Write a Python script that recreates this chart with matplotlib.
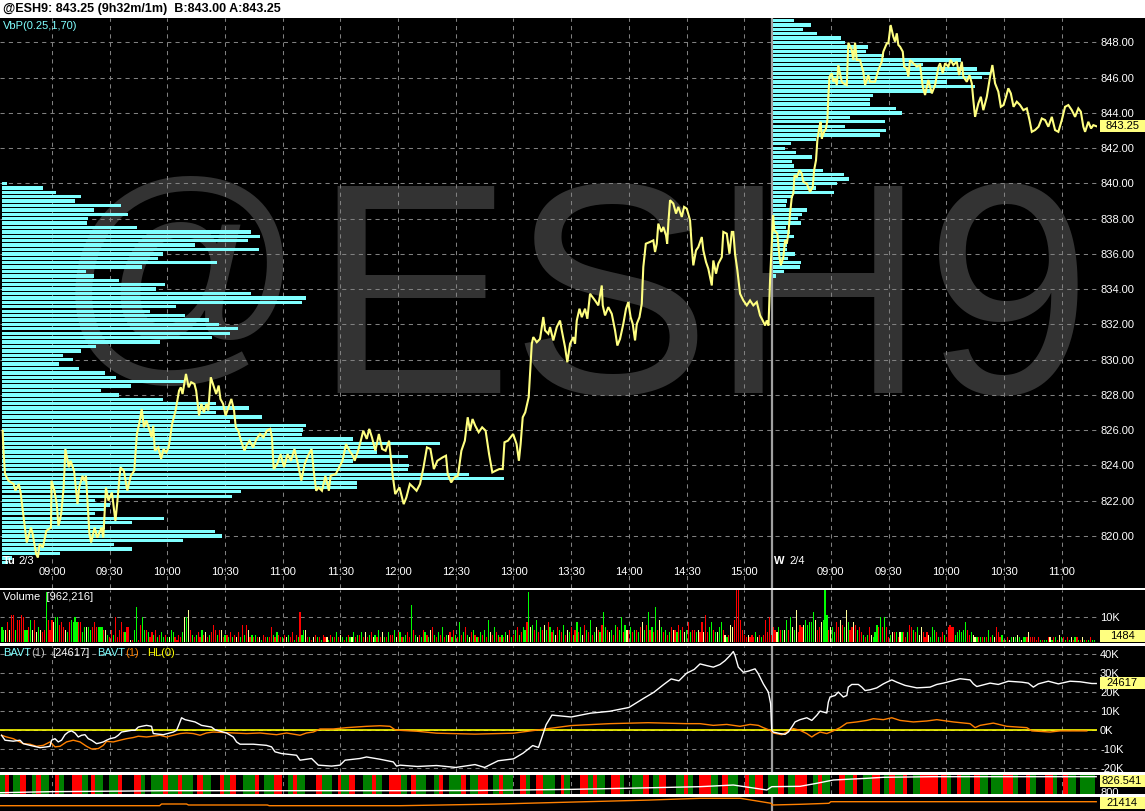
import matplotlib
matplotlib.use("Agg")
import matplotlib.pyplot as plt
import matplotlib.transforms as mtransforms
from matplotlib.patches import Rectangle
import re

plt.rcParams['font.family'] = ['Liberation Sans', 'DejaVu Sans']
plt.rcParams['lines.scale_dashes'] = False

W, H = 1145, 811

# ────────── Data ──────────
# time axis = minutes since 08:30 on Tue 2/3, Wed 2/4 session opens at minute 405
TIME_TICKS  = [30, 60, 90, 120, 150, 180, 210, 240, 270, 300, 330, 360, 390,
               435, 465, 495, 525, 555]
TIME_LABELS = ["09:00", "09:30", "10:00", "10:30", "11:00", "11:30", "12:00",
               "12:30", "13:00", "13:30", "14:00", "14:30", "15:00",
               "09:00", "09:30", "10:00", "10:30", "11:00"]
SESSION_BREAK = 404.5
PRICE_TICKS = list(range(820, 849, 2))
LAST_PRICE = 843.25

PRICE_T = [4.4, 4.8, 5.6, 7.4, 10.1, 11.0, 12.8, 13.7, 15.5, 16.9, 19.1, 20.0, 21.8, 22.7, 23.6, 25.3,
           27.1, 29.5, 29.8, 31.3, 32.5, 33.4, 34.8, 36.1, 37.0, 38.8, 39.7, 41.5, 43.3, 44.2, 45.9,
           46.8, 47.7, 49.5, 50.4, 52.2, 53.6, 55.8, 56.7, 58.1, 59.4, 61.2, 63.0, 63.9, 65.6, 67.4,
           69.2, 71.0, 72.8, 74.2, 75.5, 76.7, 77.8, 79.1, 80.9, 81.8, 82.7, 83.5, 85.3, 86.8, 88.0,
           89.5, 90.7, 92.5, 94.3, 96.1, 97.0, 97.9, 99.7, 101.1, 102.4, 104.1, 105.0, 106.5, 107.7,
           109.0, 110.4, 111.3, 112.6, 114.0, 115.4, 116.7, 117.6, 119.0, 120.3, 121.2, 122.1, 123.3,
           124.7, 125.6, 126.9, 128.3, 130.1, 131.5, 132.8, 134.6, 136.4, 138.2, 140.0, 141.8, 143.5,
           144.4, 145.3, 147.1, 148.9, 150.7, 152.5, 154.3, 156.1, 157.9, 159.7, 161.4, 163.2, 165.0,
           166.3, 167.4, 168.6, 170.4, 172.2, 174.0, 174.9, 177.6, 179.4, 181.1, 182.9, 184.7, 186.5,
           187.4, 189.2, 190.6, 191.9, 193.7, 195.0, 196.4, 198.2, 200.0, 201.7, 203.5, 205.3, 207.1,
           208.5, 210.7, 212.9, 214.3, 216.1, 217.9, 219.6, 221.4, 223.2, 225.0, 226.8, 228.6, 230.4,
           233.1, 234.9, 235.8, 237.6, 239.3, 241.1, 242.9, 244.7, 246.2, 247.4, 248.7, 250.1, 251.9,
           253.7, 255.5, 257.3, 259.0, 260.8, 262.6, 264.4, 265.3, 267.1, 269.8, 271.6, 272.8, 273.7,
           274.8, 276.1, 277.9, 278.7, 279.5, 280.3, 282.1, 283.8, 285.5, 286.4, 288.1, 289.0, 290.7,
           292.5, 294.2, 295.1, 296.8, 298.0, 299.4, 301.1, 302.0, 302.9, 304.3, 305.5, 307.2, 308.4,
           309.8, 312.4, 314.1, 315.9, 316.4, 317.6, 319.3, 321.1, 322.8, 324.0, 325.4, 327.1, 328.5,
           329.7, 330.9, 332.0, 333.2, 334.1, 335.5, 336.7, 337.5, 338.8, 341.0, 342.7, 343.6, 344.5,
           345.3, 346.9, 347.9, 349.3, 349.9, 350.5, 351.4, 353.1, 354.5, 355.7, 357.5, 358.7, 360.1,
           361.8, 362.7, 363.5, 364.9, 366.1, 367.9, 368.7, 370.1, 371.3, 373.1, 373.9, 375.3, 376.5,
           378.3, 379.1, 380.9, 382.3, 383.5, 384.3, 385.2, 386.4, 387.8, 389.5, 391.3, 393.0, 394.7,
           396.5, 398.2, 399.6, 400.8, 401.7, 402.6, 403.4,
           405.0, 405.6, 407.2, 408.3, 409.0, 410.3, 411.2, 412.1, 412.9, 413.8, 414.7, 415.5, 416.1,
           417.3, 418.7, 419.9, 420.7, 422.5, 424.2, 425.6, 426.3, 427.3, 428.0, 429.1, 429.7, 430.3,
           431.1, 432.5, 433.2, 433.7, 434.3, 435.5, 436.3, 437.2, 438.1, 438.9, 439.8, 440.7, 441.5,
           443.3, 444.1, 445.9, 446.7, 447.6, 448.5, 450.2, 451.9, 452.8, 454.5, 455.4, 458.0, 459.7,
           461.5, 462.3, 464.1, 464.9, 466.1, 467.5, 468.4, 469.3, 470.1, 471.0, 472.4, 473.1, 474.5,
           475.3, 476.2, 477.9, 479.7, 481.4, 482.8, 484.0, 485.7, 487.5, 489.2, 491.0, 491.8, 493.2,
           494.4, 496.1, 497.3, 498.7, 500.5, 501.7, 503.1, 503.9, 505.7, 507.1, 508.3, 509.1, 510.0,
           511.7, 513.0, 514.3, 516.1, 517.8, 519.0, 520.4, 522.1, 523.4, 524.8, 526.1, 527.3, 528.6,
           530.0, 531.7, 533.4, 535.1, 536.9, 538.3, 539.5, 541.2, 543.0, 544.7, 546.4, 548.1, 549.9,
           551.6, 553.3, 555.1, 556.8, 558.5, 560.3, 562.0, 563.7, 565.0, 566.3, 567.2, 568.9, 570.3,
           571.5, 573.0]
PRICE_V = [825.97, 824.83, 823.51, 823.13, 822.94, 822.56, 822.94, 822.46, 820.85, 819.62, 820.47,
           820.10, 818.96, 818.77, 819.53, 819.34, 820.29, 820.47, 823.13, 822.56, 821.80, 820.57,
           821.23, 822.75, 824.93, 823.89, 824.26, 823.70, 821.80, 822.75, 823.41, 823.13, 823.41,
           820.10, 819.62, 820.47, 819.90, 820.47, 819.90, 822.75, 822.00, 822.46, 820.85, 821.80,
           823.89, 823.70, 822.56, 823.41, 823.70, 825.78, 826.44, 827.20, 826.16, 826.54, 825.97,
           825.59, 826.25, 824.83, 825.02, 824.36, 824.93, 824.74, 825.02, 826.35, 827.11, 828.24,
           828.43, 828.05, 829.19, 828.43, 828.72, 828.62, 828.24, 826.82, 827.49, 827.01, 827.49,
           827.11, 829.00, 828.53, 828.05, 828.53, 827.77, 827.49, 826.82, 827.11, 827.39, 827.77,
           827.11, 826.16, 825.97, 825.40, 824.83, 825.21, 825.40, 825.02, 825.50, 825.78, 825.59,
           825.97, 826.07, 825.59, 823.79, 824.07, 824.64, 823.89, 824.64, 824.26, 824.93, 824.07,
           823.13, 824.07, 824.55, 824.93, 823.51, 822.56, 822.75, 822.56, 823.41, 822.56, 823.41,
           823.51, 823.89, 824.26, 825.21, 824.83, 824.55, 824.26, 824.83, 825.40, 825.97, 825.50,
           826.07, 825.59, 824.83, 825.78, 824.93, 824.83, 825.40, 823.51, 822.37, 822.75, 821.80,
           822.18, 822.94, 822.75, 822.56, 822.94, 823.89, 825.02, 824.93, 823.79, 824.26, 824.45,
           824.55, 823.51, 823.03, 823.32, 823.41, 824.83, 825.40, 826.73, 825.97, 826.63, 826.25,
           825.88, 826.16, 825.97, 824.64, 823.60, 823.70, 823.79, 823.79, 825.31, 825.40, 825.78,
           825.21, 824.26, 825.21, 826.73, 827.01, 827.87, 829.38, 830.90, 831.28, 830.99, 831.18,
           832.42, 831.66, 831.47, 831.85, 831.09, 831.85, 832.22, 831.66, 830.71, 829.85, 830.90,
           831.28, 830.90, 832.22, 832.89, 832.41, 832.89, 832.32, 833.74, 833.36, 833.08, 834.21,
           833.08, 832.51, 832.98, 832.60, 831.66, 830.80, 831.18, 832.03, 832.89, 833.27, 832.41,
           832.03, 831.09, 832.03, 832.41, 833.17, 835.26, 836.58, 836.68, 836.77, 836.11, 836.58,
           837.72, 837.25, 837.53, 837.06, 836.58, 837.72, 839.05, 838.86, 838.29, 838.67, 838.10,
           838.67, 838.57, 837.91, 836.39, 835.35, 836.20, 836.39, 836.96, 836.20, 835.54, 835.16,
           834.21, 835.63, 834.88, 835.45, 835.82, 837.25, 837.15, 836.01, 837.25, 837.25, 836.01,
           835.07, 833.74, 833.36, 833.08, 833.36, 833.08, 833.27, 832.51, 832.22, 831.94, 832.22,
           831.94, 834.50,
           838.20, 837.34, 837.15, 835.82, 835.35, 835.82, 836.77, 836.58, 837.15, 838.29, 839.23,
           839.42, 840.47, 840.37, 840.75, 840.56, 840.09, 839.99, 839.52, 839.80, 840.75, 841.32,
           842.46, 843.22, 843.50, 842.55, 842.84, 843.12, 843.59, 844.92, 846.06, 846.25, 845.77,
           845.96, 845.58, 846.72, 846.25, 845.77, 845.68, 845.58, 847.99, 847.57, 847.00, 847.99,
           847.00, 847.00, 846.34, 845.58, 846.15, 845.77, 845.77, 846.44, 846.91, 847.48, 847.95,
           847.95, 848.99, 848.33, 848.05, 848.52, 847.86, 847.76, 847.48, 846.63, 846.53, 846.06,
           847.00, 846.82, 846.63, 846.72, 845.49, 845.02, 845.87, 845.11, 845.58, 846.63, 846.82,
           846.25, 846.82, 846.63, 847.01, 846.72, 846.91, 846.15, 846.91, 846.06, 845.77, 846.15,
           845.68, 844.73, 843.78, 844.54, 844.92, 844.16, 844.92, 846.06, 846.72, 845.68, 845.21,
           844.35, 844.45, 844.92, 845.40, 845.11, 844.35, 844.64, 844.45, 844.16, 844.26, 843.60,
           842.93, 843.03, 843.22, 843.69, 843.60, 843.22, 843.78, 843.03, 842.93, 843.60, 844.35,
           844.45, 844.16, 843.78, 844.26, 844.07, 843.22, 842.93, 843.50, 843.12, 843.31, 843.25]

# volume-by-price profiles, one row per 0.25 tick, from the top price down
VBP1_TOP = 840.00
VBP1 = [5, 41, 54, 79, 73, 119, 92, 126, 86, 85, 135, 249, 258, 246, 193, 257, 161, 156, 215, 140,
        84, 92, 117, 163, 154, 249, 304, 300, 174, 148, 183, 207, 217, 236, 228, 210, 158, 94, 79, 61,
        71, 57, 77, 103, 114, 183, 129, 99, 117, 161, 214, 247, 214, 260, 228, 304, 301, 300, 351, 438,
        372, 375, 406, 351, 407, 406, 467, 502, 355, 355, 239, 230, 93, 108, 103, 93, 162, 130, 103, 213,
        220, 181, 112, 130, 58, 10, 6]
VBP2_TOP = 849.25
VBP2 = [21, 38, 30, 44, 68, 72, 95, 93, 111, 188, 150, 204, 218, 209, 174, 202, 159, 100, 97, 97,
        123, 129, 77, 112, 72, 113, 107, 43, 18, 12, 23, 39, 19, 21, 50, 71, 76, 64, 43, 61,
        20, 14, 13, 34, 29, 25, 28, 13, 17, 21, 14, 14, 14, 22, 15, 28, 27, 11, 3]
VBP_SCALE = 1097

# 1-minute volume in thousands (base-36 digit per bar) and bar colour (r/g/y)
VOL_START = 4
VOL_K = ("65585bb599" "ba55695946" "545k9598aa" "78654898a8" "8846665686" "666553253a"
         "2584466115" "e17a554243" "5234232254" "21324aad53" "2342534234" "7535523324"
         "2324273752" "3232213222" "6324322323" "24132c3552" "2123221322" "1322423212"
         "3224233424" "2342325242" "2433524422" "342f532325" "4325632436" "2334253283"
         "4632453224" "3529436432" "3243523563" "4658k67594" "6575864536" "5473546358"
         "4637549346" "547c654537" "65a4755645" "546857c564" "e596453465" "5475645845"
         "545484b468" "5446853237" "69ll953232" "324232394a3"
         "654655595a" "65d4767978" "8c95689lb5" "66486976d8" "5687564323" "632476a6a6"
         "2344424442" "4765463642" "4326542243" "2676634545" "8534322222" "2252326423"
         "1121222321" "2224222121" "1112212213" "2212121221" "12111211")
VOL_C = ("ggyryrrgrr" "rrggrgyryg" "yrrgrrrygg" "rrrygrgggg" "rrggyggrrr" "gggrygrrgr"
         "rrrrgrryrg" "grrggrgrrg" "rgrggrgygg" "rrrrgygyrg" "rgrrgryrgr" "rrgryrgrgr"
         "gryrgrgryr" "grgrygrrgr" "rgrgrrgryg" "rrgrgrggyr" "gryrgrgrry" "grgrgrygrg"
         "rgygrgrgry" "rgrygrgryg" "rgrrgyrgrg" "grrgrgyrgr" "grgyrgrgrg" "rgyrgrgrgr"
         "grgyrgrgrg" "rgrgyrgrgr" "grgyrgrgrg" "rggrgygrgr" "grygrgrgyr" "grgrygrgrg"
         "rgyrgrgrgy" "rgrggrygrg" "rggrgyrgrg" "rgrygrgrgr" "grygrgrgry" "rgrgrygrgr"
         "rgyrryrrgg" "rgyggrygry" "yrrrrrrryr" "rrgyrgrrrrr"
         "rrygrgygrg" "ygyrrryggg" "ggyrrygggr" "yggrryrgyg" "rryrgrrgrg" "rygggrgrgr"
         "rgyrgrygrr" "grrgrgyyrr" "rygggrgrrg" "rrrrrggggg" "grrgyygrgr" "grgrgyrrrg"
         "rgrygygygy" "ggryrrrrrg" "rggrygrgry" "grgrgyrgrg" "rygrgrgg")
LAST_VOL = 1484

# BAVT (white) and its average (orange), thousands
BAVT_T = [3.8, 5.6, 9.9, 13.4, 15.1, 18.6, 23.8, 27.2, 29.0, 29.8, 31.6, 33.3, 35.0, 36.8, 38.5, 40.2,
          42.0, 43.7, 45.4, 47.2, 48.9, 50.6, 53.2, 55.0, 56.7, 58.4, 60.2, 62.8, 64.5, 66.2, 69.7,
          71.4, 73.2, 74.9, 76.6, 79.2, 81.8, 82.7, 87.9, 93.1, 94.8, 96.6, 97.4, 99.2, 104.4, 107.8,
          113.0, 114.8, 120.8, 124.3, 126.0, 127.8, 134.7, 141.6, 144.2, 146.0, 149.4, 157.2, 159.0,
          165.0, 168.5, 175.4, 179.8, 182.4, 190.2, 193.6, 200.6, 207.5, 209.2, 211.0, 220, 230, 240,
          250, 255, 262, 270, 275, 280, 283, 287, 290, 300, 310, 320, 330, 338, 343, 348, 352, 356,
          360, 364, 367.0, 370.5, 373.9, 377.4, 380.0, 382.6, 384.3, 385.2, 386.9, 389.5, 392.1,
          395.6, 397.3, 399.9, 402.5, 403.7, 404.3, 405.0, 408.6, 411.2, 412.9, 414.7, 416.4, 419.0,
          422.5, 425.1, 427.7, 429.4, 432.9, 433.7, 434.6, 437.2, 438.9, 441.5, 443.3, 444.1, 445.9,
          449.3, 451.1, 452.8, 455.4, 458.9, 462.3, 464.1, 466.7, 469.3, 473.6, 479.7, 486.6, 490.1,
          493.5, 498.7, 502.2, 507.4, 509.1, 510.9, 517.8, 522.1, 527.3, 534.3, 537.7, 540.3, 542.9,
          548.1, 553.3, 559.4, 564.6, 570.7, 573.0]
BAVT_V = [-2.6, -5.2, -5.7, -5.2, -7.0, -7.9, -9.1, -8.7, -8.4, -5.2, -4.4, -6.1, -5.2, -2.3, -0.9,
          -0.3, -1.4, -3.5, -2.6, -2.3, -4.4, -5.2, -7.0, -6.6, -6.1, -5.2, -4.4, -3.8, -2.6, -0.9,
          -0.3, 0.0, 0.0, 1.7, 2.1, 2.6, 2.1, -1.7, -2.3, -0.9, 0.0, 4.4, 6.6, 5.6, 4.4, 2.6, 1.7,
          0.3, -1.4, -3.5, -6.1, -7.3, -7.3, -7.9, -8.7, -11.3, -12.2, -13.1, -15.7, -14.8, -18.3,
          -18.8, -18.3, -15.7, -14.8, -14.0, -15.2, -16.6, -18.8, -18.3, -19.0, -18.5, -19.5, -18.0,
          -19.5, -16.0, -15.0, -12.0, -8.0, -9.0, 3.0, 8.0, 7.0, 9.0, 10.0, 12.0, 17.0, 20.0, 24.0,
          27.0, 26.0, 30.0, 32.0, 34.9, 34.0, 33.2, 34.6, 36.6, 39.3, 41.4, 39.3, 33.2, 30.5, 31.1,
          32.3, 29.7, 24.4, 20.1, 14.0, 0.0, -0.9, -1.7, -2.1, -0.9, 1.7, 4.4, 5.6, 6.6, 5.2, 7.9,
          10.1, 9.1, 14.8, 17.5, 18.3, 20.1, 17.5, 18.3, 22.7, 24.1, 24.1, 22.7, 20.9, 21.3, 22.3,
          24.4, 25.3, 26.5, 25.3, 23.6, 22.3, 22.7, 24.1, 24.8, 26.2, 27.1, 26.5, 24.4, 23.0, 24.8,
          24.1, 25.8, 25.3, 24.8, 22.7, 24.4, 25.8, 24.4, 25.8, 25.5, 24.6, 24.6]
AVG_T = [3.8, 6.4, 9.9, 15.1, 18.6, 22.0, 25.5, 29.0, 31.6, 34.2, 37.6, 41.1, 44.6, 48.0, 50.6, 54.1,
         56.7, 58.4, 61.9, 65.4, 68.8, 72.3, 74.9, 79.2, 86.2, 89.6, 93.1, 96.6, 100.0, 103.5, 107.0,
         110.4, 113.9, 124.3, 131.2, 138.2, 146.8, 152.0, 159.0, 162.4, 165.9, 169.4, 176.3, 183.2,
         193.6, 200.6, 205.8, 208.4, 211.0, 220, 230, 250, 270, 285, 300, 320, 340, 360,
         367.0, 373.9, 380.9, 387.8, 393.0, 397.3, 399.9, 403.4, 405.1, 409.5, 412.1, 415.5, 419.0,
         422.5, 425.1, 426.8, 429.4, 432.9, 436.3, 439.8, 443.3, 448.5, 453.7, 457.1, 462.3, 466.7,
         471.0, 477.9, 484.9, 490.1, 498.7, 507.4, 510.0, 512.6, 519.5, 526.5, 536.9, 539.5, 549.0,
         554.2, 568.1]
AVG_V = [-2.6, -3.5, -4.4, -7.0, -7.3, -8.4, -7.9, -6.1, -8.7, -8.4, -6.1, -5.2, -6.1, -8.4, -9.8,
         -9.6, -7.9, -5.8, -6.1, -5.2, -4.4, -3.8, -3.1, -3.5, -2.6, -3.5, -2.6, -1.7, -1.4, -1.7,
         -2.6, -1.4, -0.9, -1.4, -1.7, -1.4, -2.3, -1.4, -2.6, -1.4, -0.9, 0.7, 0.7, 1.4, 2.1, 2.4,
         2.1, 0.3, 0.0, -0.5, -1.5, -2.0, -1.5, 0.5, 2.5, 3.5, 4.0, 3.5,
         3.5, 2.6, 3.1, 2.1, 3.1, 2.6, 1.4, 0.0, -1.4, -2.3, -0.9, 0.9, 0.0, -1.7, -3.5, -2.3, -0.9,
         -1.7, -0.3, 1.4, 3.8, 4.4, 5.2, 6.1, 5.6, 6.6, 5.2, 4.4, 4.9, 5.6, 4.4, 3.5, 1.4, 2.6, 3.8,
         2.1, 1.4, -0.3, -0.9, -0.3, -0.3]
LAST_BAVT = 24617

# colour strip: runs of (colour, minutes) from minute 3; k = no bar
STRIP_RUNS = ("g3r2k2g4r3k3g2r3g4k3r2g3k4r5g3k2r2g4k3g5r2k6r4g2k3g6r3g5r2g6k2r3g4k5r2g3r3k4g6"
              "r2k3g5r4k3g3r2g4k6r3g5k3r2g4r3k4g5r2g3k4r6g3k2r3g5k4g3r2k3g6r3k2g4r5k3g3r2g5k4"
              "r3g2k3r4g6k3r2g3k5r4g3r2g4k3r5g2k4g6r3k2g3r4k5g4r2g3k3r6g4k2r3g5k4r2g3r4k3g5r3"
              "k2g4r6k3g3r2g4k5r3g4r2k3g5r4k2g3r3g4r2k3g4r9k2"
              "r3g2k3r2g5k2r3g4k2g6r5g3k4r2g3k5r4g2k3r3g4k2g8k3r3g2k4g6r2k3g5r3k4g3r4k2g6k3r2"
              "g4r3k5g3r2g4k3r5g3k2g4r3g2k3r2g3k4r2g5r3g2")
STRIP_T = [3, 29, 89.6, 159, 211, 250, 300, 340, 367, 384.3, 401.7, 404.3, 419, 427.7, 436.3,
           453.7, 462.3, 488.3, 573]
STRIP_V = [797.4, 800, 802.6, 802.6, 802.6, 803, 806, 810, 812.9, 817.2, 804.4, 812.9, 813.8,
           821.6, 830.1, 834.4, 837.0, 838.6, 838.6]
STRIP_LAST = 826.541

BOT_T = [3, 86, 87, 100, 101, 142, 143, 211, 260, 300, 340, 367, 388, 404, 404.5, 419, 434, 435, 573]
BOT_V = [17.4, 17.4, 19.1, 19.1, 18.1, 18.1, 17.4, 17.4, 19, 21, 23, 24.8, 24.8, 19.8, 18.1,
         18.8, 19.8, 21.4, 21.4]
BOT_LAST = 21414

# ────────── Colours ──────────
GRID = "#808080"
CYAN = "#80FFFF"
PRICE_C = "#FFFF80"
BOX_C = "#FFFF80"
VOL_COLORS = {"r": "#FF0000", "g": "#00FF00", "y": "#FFFF99"}
STRIP_COLORS = {"r": "#FF0000", "g": "#008000"}
ORANGE = "#FF8000"

# ────────── Layout (pixel rectangles: x0, y0, x1, y1 from top-left) ──────────
PLOT_R = 1097
R_MAIN = (0, 18, PLOT_R, 588)
R_VOL = (0, 590, PLOT_R, 642)
R_BAVT = (0, 646, PLOT_R, 772)
R_STRIP = (0, 775, PLOT_R, 794)
R_BOT = (0, 797, PLOT_R, 811)
R_VP2 = (773, 18, PLOT_R, 588)


def rect(r):
    x0, y0, x1, y1 = r
    return [x0 / W, 1 - y1 / H, (x1 - x0) / W, (y1 - y0) / H]


def frac(r, x, y):
    x0, y0, x1, y1 = r
    return (x - x0) / (x1 - x0), 1 - (y - y0) / (y1 - y0)


fig = plt.figure(figsize=(W / 100, H / 100), dpi=100, facecolor="black")

# title bar and white separators
fig.patches.append(Rectangle((0, 1 - 18 / H), 1, 18 / H, transform=fig.transFigure,
                             fc="white", ec="none", zorder=0))
for y0, y1 in [(588, 590), (642.5, 645.5), (772, 775), (794, 797)]:
    fig.patches.append(Rectangle((0, 1 - y1 / H), 1, (y1 - y0) / H, transform=fig.transFigure,
                                 fc="white", ec="none", zorder=0))
fig.text(3 / W, 1 - 9 / H, "@ESH9: 843.25 (9h32m/1m)  B:843.00 A:843.25", fontsize=9,
         fontweight="bold", color="black", va="center", ha="left")


def style_panel(a, yticks, ylabels, ylim):
    a.set_facecolor("black")
    a.set_xlim(3, 573.4)
    a.set_ylim(*ylim)
    for s in a.spines.values():
        s.set_visible(False)
    a.yaxis.tick_right()
    a.set_yticks(yticks, ylabels)
    a.set_xticks(TIME_TICKS, TIME_LABELS)
    a.tick_params(axis="y", length=0, pad=2.2, labelsize=8, labelcolor="white")
    a.tick_params(axis="x", length=0, labelbottom=False)
    a.grid(True, color=GRID, linestyle=(0, (3, 3)), linewidth=0.75)
    a.set_axisbelow(True)
    a.axvline(SESSION_BREAK, color="#A0A0A0", lw=1.6, zorder=1)


def value_box(a, val, label):
    lo, hi = a.get_ylim()
    per_px = (hi - lo) / (a.get_position().height * H)
    half = 6 * per_px
    c = min(max(val, lo + half), hi - half)
    tr = mtransforms.blended_transform_factory(fig.transFigure, a.transData)
    a.add_patch(Rectangle((1100 / W, c - half), 45 / W, 2 * half, transform=tr,
                          fc=BOX_C, ec="none", clip_on=False, zorder=6))
    a.text(1122 / W, c, label, transform=tr, ha="center", va="center", fontsize=8,
           color="black", clip_on=False, zorder=7)


# ────────── Main price panel ──────────
ax = fig.add_axes(rect(R_MAIN))
style_panel(ax, PRICE_TICKS, [f"{v:.2f}" for v in PRICE_TICKS], (817.04, 849.39))
ax.tick_params(axis="x", labelbottom=True, pad=-15, labelsize=8, labelcolor="white")

# watermark
wm = dict(color="#333333", transform=ax.transAxes, zorder=0, fontfamily="Liberation Sans")
ax.text(*frac(R_MAIN, 180, 290), "@", fontsize=176, ha="center", va="center", **wm)
for ch, xc in zip("ESH9", [412, 610, 818, 1008]):
    ax.text(*frac(R_MAIN, xc, 393), ch, fontsize=216, ha="center", va="baseline", **wm)

ax.text(*frac(R_MAIN, 3, 25.5), "VbP(0.25,1,70)", color=CYAN, fontsize=8, va="center",
        transform=ax.transAxes)

# volume-by-price profiles
ax_vp1 = fig.add_axes(rect(R_MAIN), sharey=ax)
ax_vp1.set_xlim(0, VBP_SCALE)
ax_vp1.barh([VBP1_TOP - 0.25 * i for i in range(len(VBP1))], VBP1, height=0.19,
            left=2, color=CYAN, linewidth=0)
ax_vp1.axis("off")
ax_vp2 = fig.add_axes(rect(R_VP2), sharey=ax)
ax_vp2.set_xlim(0, R_VP2[2] - R_VP2[0])
ax_vp2.barh([VBP2_TOP - 0.25 * i for i in range(len(VBP2))], VBP2, height=0.19,
            color=CYAN, linewidth=0)
ax_vp2.axis("off")

# price line on top
ax_px = fig.add_axes(rect(R_MAIN), sharex=ax, sharey=ax)
ax_px.axis("off")
ax_px.plot(PRICE_T, PRICE_V, color=PRICE_C, lw=1.5, solid_joinstyle="miter")
for x, txt, bold in [(3, "Tu", True), (18, "2/3", False), (774, "W", True), (789, "2/4", False)]:
    ax_px.text(*frac(R_MAIN, x, 560.5), txt, color="white", fontsize=8,
               fontweight="bold" if bold else "normal", va="center", transform=ax_px.transAxes)
value_box(ax, LAST_PRICE, f"{LAST_PRICE:.2f}")

# ────────── Volume panel ──────────
ax_v = fig.add_axes(rect(R_VOL))
style_panel(ax_v, [10], ["10K"], (0, 20.8))
vk = [int(c, 36) for c in VOL_K]
vt = [VOL_START + i for i in range(len(vk))]
ax_v.bar(vt, vk, width=0.6, color=[VOL_COLORS[c] for c in VOL_C], linewidth=0, zorder=2)
ax_v.text(*frac(R_VOL, 3, 597.5), "Volume  [962,216]", color="white", fontsize=8,
          va="center", transform=ax_v.transAxes)
value_box(ax_v, LAST_VOL / 1000, str(LAST_VOL))

# ────────── BAVT panel ──────────
ax_b = fig.add_axes(rect(R_BAVT))
bt = list(range(-20, 41, 10))
style_panel(ax_b, bt, [f"{v}K" for v in bt], (-21.9, 44.3))
ax_b.axhline(0, color="#FFFF00", lw=1.2, zorder=2)
ax_b.plot(AVG_T, AVG_V, color=ORANGE, lw=1.0, zorder=3)
ax_b.plot(BAVT_T, BAVT_V, color="white", lw=1.0, zorder=4)
for x, txt, col in [(3, "BAVT", CYAN), (31, "(1)", "#C0C0C0"), (52, "[24617]", "white"),
                    (97, "BAVT", CYAN), (125, "(1)", ORANGE), (147, "HL(0)", "#FFFF00")]:
    ax_b.text(*frac(R_BAVT, x, 652.5), txt, color=col, fontsize=8, va="center",
              transform=ax_b.transAxes)
value_box(ax_b, LAST_BAVT / 1000, str(LAST_BAVT))

# ────────── Colour strip ──────────
ax_s = fig.add_axes(rect(R_STRIP))
style_panel(ax_s, [800], ["800"], (794.1, 842.9))
ax_s.grid(axis="y", visible=False)
m = 3
for col, n in re.findall(r"([rgk])(\d+)", STRIP_RUNS):
    n = int(n)
    if col != "k":
        ax_s.bar(m - 0.5, 842.9 - 794.1, bottom=794.1, width=n, align="edge",
                 color=STRIP_COLORS[col], linewidth=0, zorder=2)
    m += n
ax_s.plot(STRIP_T, STRIP_V, color="white", lw=1.0, zorder=4)
value_box(ax_s, STRIP_LAST, f"{STRIP_LAST:.3f}")

# ────────── Bottom panel ──────────
ax_o = fig.add_axes(rect(R_BOT))
style_panel(ax_o, [], [], (12.1, 26.1))
ax_o.grid(False)
ax_o.plot(BOT_T, BOT_V, color=ORANGE, lw=1.0)
value_box(ax_o, BOT_LAST / 1000, str(BOT_LAST))

fig.savefig("out.png", dpi=100, facecolor="black")
